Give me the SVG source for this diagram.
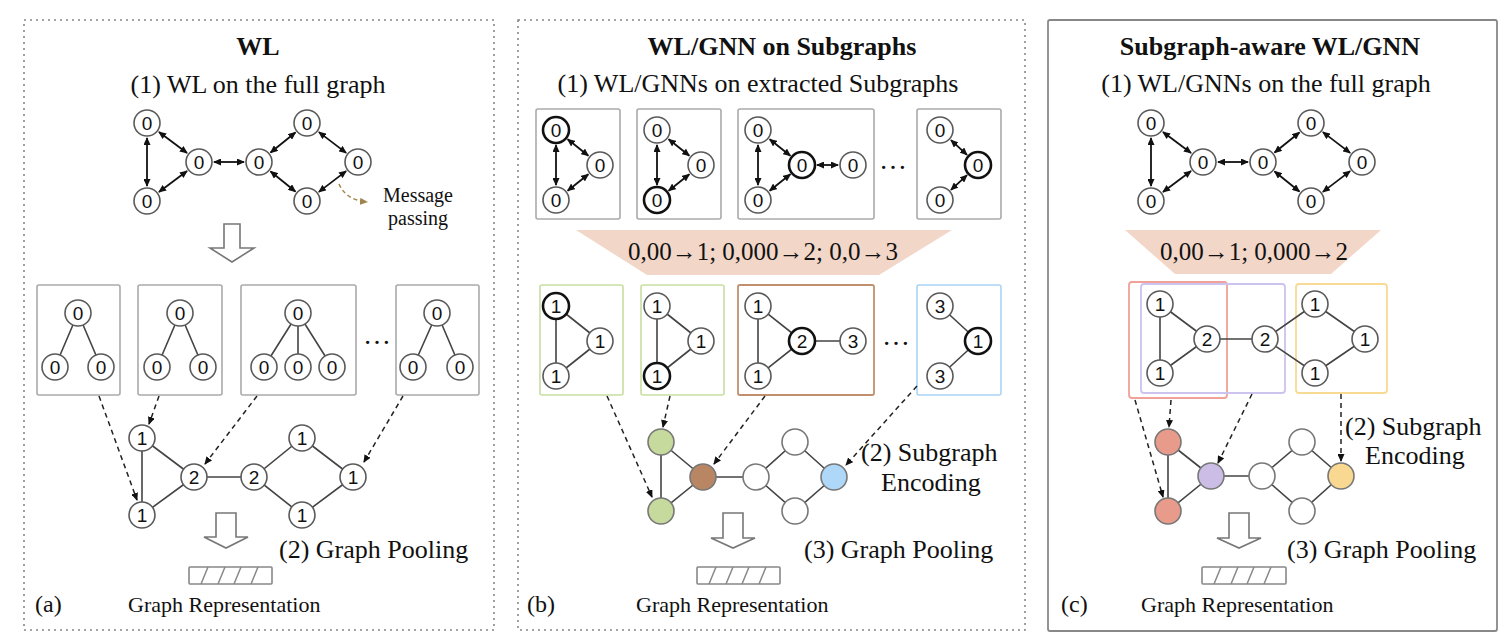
<svg xmlns="http://www.w3.org/2000/svg" width="1512" height="640" viewBox="0 0 1512 640">
<style>
.t{font-family:"Liberation Serif","Times New Roman",serif;fill:#111}
.tb{font-family:"Liberation Serif","Times New Roman",serif;font-weight:bold;fill:#111;font-size:26px;text-anchor:middle}
.s26{font-size:26px}
.s22{font-size:22px}
.s24{font-size:24px}
.s20{font-size:20px}
.mid{text-anchor:middle}
.n circle{fill:#fff;stroke:#5a5a5a;stroke-width:1.6}
.n.b circle{stroke:#111;stroke-width:2.6}
.n text{font-family:"Liberation Sans",Arial,sans-serif;font-size:19px;text-anchor:middle;fill:#111}
.box{fill:none;stroke:#aaa;stroke-width:1.6}
.da{stroke:#111;stroke-width:1.8;fill:none;marker-start:url(#dh);marker-end:url(#dh)}
.ln{stroke:#444;stroke-width:1.6;fill:none}
.dash{stroke:#222;stroke-width:1.5;fill:none;stroke-dasharray:5,4;marker-end:url(#ah)}
.hol{fill:#fff;stroke:#777;stroke-width:1.6}
.bar{fill:#fff;stroke:#888;stroke-width:1.6}
.hatch{stroke:#888;stroke-width:1.5}
.trap{fill:#f2d6c8}
</style>
<defs>
<marker id="dh" markerUnits="userSpaceOnUse" markerWidth="8" markerHeight="7" refX="7" refY="3.5" orient="auto-start-reverse"><path d="M0,0 L8,3.5 L0,7 z" fill="#111"/></marker>
<marker id="ah" markerUnits="userSpaceOnUse" markerWidth="8" markerHeight="7" refX="7" refY="3.5" orient="auto"><path d="M0,0 L8,3.5 L0,7 z" fill="#111"/></marker>
<marker id="bh" markerUnits="userSpaceOnUse" markerWidth="8" markerHeight="7" refX="7" refY="3.5" orient="auto"><path d="M0,0 L8,3.5 L0,7 z" fill="#a0854a"/></marker>
</defs>

<!-- Panel frames -->
<g id="panel-a-frame"><rect x="24" y="20" width="470" height="610" fill="none" stroke="#888" stroke-width="1.6" stroke-dasharray="2,4"/></g>
<g id="panel-b-frame"><rect x="518" y="20" width="507" height="610" fill="none" stroke="#888" stroke-width="1.6" stroke-dasharray="2,4"/></g>
<g id="panel-c-frame"><rect x="1048" y="20" width="449" height="611" rx="2" fill="none" stroke="#888" stroke-width="1.8"/></g>

<!-- Titles and labels -->
<g id="labels">
<text class="tb" x="258" y="55">WL</text>
<text class="t s26 mid" x="258" y="93">(1) WL on the full graph</text>
<text class="t s20 mid" x="418" y="202">Message</text>
<text class="t s20 mid" x="418" y="225">passing</text>
<text class="t s26" x="279" y="558">(2) Graph Pooling</text>
<text class="t s22" x="128" y="612">Graph Representation</text>
<text class="t s24" x="35" y="612">(a)</text>

<text class="tb" x="782" y="55">WL/GNN on Subgraphs</text>
<text class="t s26 mid" x="758" y="92">(1) WL/GNNs on extracted Subgraphs</text>
<text class="t s26" x="861" y="461">(2) Subgraph</text>
<text class="t s26" x="881" y="491">Encoding</text>
<text class="t s26" x="804" y="558">(3) Graph Pooling</text>
<text class="t s22" x="636" y="612">Graph Representation</text>
<text class="t s24" x="527" y="612">(b)</text>

<text class="tb" x="1270" y="55">Subgraph-aware WL/GNN</text>
<text class="t s26 mid" x="1266" y="92">(1) WL/GNNs on the full graph</text>
<text class="t s26" x="1345" y="435">(2) Subgraph</text>
<text class="t s26" x="1365" y="464">Encoding</text>
<text class="t s26" x="1287" y="558">(3) Graph Pooling</text>
<text class="t s22" x="1141" y="612">Graph Representation</text>
<text class="t s24" x="1061" y="612">(c)</text>

<text class="t mid" font-size="28" x="377" y="344">…</text>
<text class="t mid" font-size="28" x="893" y="169">…</text>
<text class="t mid" font-size="28" x="896" y="345">…</text>
</g>

<!-- Boxes -->
<g id="boxes">
<rect class="box" x="37" y="285" width="83" height="110" rx="2"/>
<rect class="box" x="138" y="285" width="84" height="110" rx="2"/>
<rect class="box" x="241" y="285" width="115" height="110" rx="2"/>
<rect class="box" x="396" y="285" width="83" height="110" rx="2"/>

<rect class="box" x="536" y="109" width="84" height="110" rx="2"/>
<rect class="box" x="637" y="109" width="84" height="110" rx="2"/>
<rect class="box" x="738" y="109" width="136" height="110" rx="2"/>
<rect class="box" x="917" y="109" width="84" height="110" rx="2"/>

<rect x="540" y="285" width="83" height="110" rx="2" fill="none" stroke="#c9dea2" stroke-width="1.6"/>
<rect x="641" y="285" width="83" height="110" rx="2" fill="none" stroke="#c9dea2" stroke-width="1.6"/>
<rect x="738" y="285" width="136" height="110" rx="2" fill="none" stroke="#c0906e" stroke-width="1.8"/>
<rect x="917" y="285" width="84" height="110" rx="2" fill="none" stroke="#a9d4f5" stroke-width="1.6"/>

<rect x="1129" y="282" width="98" height="116" rx="3" fill="none" stroke="#f0a198" stroke-width="1.8"/>
<rect x="1141" y="284" width="144" height="109" rx="3" fill="none" stroke="#cdc3ef" stroke-width="1.8"/>
<rect x="1296" y="284" width="91" height="109" rx="3" fill="none" stroke="#f8da94" stroke-width="1.8"/>
</g>

<!-- Trapezoids -->
<g id="trap-b"><polygon class="trap" points="576,230 952,230 879,275 647,275"/><text class="t mid" font-size="25" x="763" y="260">0,00→1; 0,000→2; 0,0→3</text></g>
<g id="trap-c"><polygon class="trap" points="1125,230 1381,230 1331,274 1175,274"/><text class="t mid" font-size="25" x="1254" y="260">0,00→1; 0,000→2</text></g>

<!-- Hollow arrows and bars -->
<g id="hollow-arrows">
<polygon class="hol" points="224,224 240,224 240,248 254,248 232,262 210,248 224,248"/>
<polygon class="hol" points="216,513 236,513 236,537 248,537 226,548 204,537 216,537"/>
<polygon class="hol" points="723,513 743,513 743,538 755,538 733,548 711,538 723,538"/>
<polygon class="hol" points="1229,513 1249,513 1249,538 1261,538 1239,548 1217,538 1229,538"/>
</g>
<g id="bars">
<rect class="bar" x="189" y="567" width="83" height="17" rx="1"/>
<path class="hatch" d="M201,584 L208,567 M218,584 L225,567 M234,584 L241,567 M251,584 L258,567"/>
<rect class="bar" x="697" y="567" width="83" height="17" rx="1"/>
<path class="hatch" d="M709,584 L716,567 M726,584 L733,567 M742,584 L749,567 M759,584 L766,567"/>
<rect class="bar" x="1202" y="567" width="84" height="17" rx="1"/>
<path class="hatch" d="M1214,584 L1221,567 M1231,584 L1238,567 M1247,584 L1254,567 M1264,584 L1271,567"/>
</g>

<!-- Connectors -->
<g id="connectors">
<g id="conn-a-top">
<line class="da" x1="147" y1="138" x2="147" y2="186"/>
<line class="da" x1="159" y1="132" x2="187" y2="153"/>
<line class="da" x1="159" y1="192" x2="187" y2="171"/>
<line class="da" x1="214" y1="162" x2="244" y2="162"/>
<line class="da" x1="270.6" y1="152.5" x2="295.4" y2="132.5"/>
<line class="da" x1="270.6" y1="171.5" x2="295.4" y2="191.5"/>
<line class="da" x1="318.9" y1="132.1" x2="346.1" y2="152.9"/>
<line class="da" x1="318.9" y1="191.9" x2="346.1" y2="171.1"/>
</g>
<g id="conn-c-top" transform="translate(1004,0)">
<line class="da" x1="147" y1="138" x2="147" y2="186"/>
<line class="da" x1="159" y1="132" x2="187" y2="153"/>
<line class="da" x1="159" y1="192" x2="187" y2="171"/>
<line class="da" x1="214" y1="162" x2="244" y2="162"/>
<line class="da" x1="270.6" y1="152.5" x2="295.4" y2="132.5"/>
<line class="da" x1="270.6" y1="171.5" x2="295.4" y2="191.5"/>
<line class="da" x1="318.9" y1="132.1" x2="346.1" y2="152.9"/>
<line class="da" x1="318.9" y1="191.9" x2="346.1" y2="171.1"/>
</g>
<path d="M339,184 Q346,200 367,202" fill="none" stroke="#a0854a" stroke-width="1.5" stroke-dasharray="4,3" marker-end="url(#bh)"/>

<g id="conn-b-top">
<line class="da" x1="556" y1="145" x2="556" y2="185"/>
<line class="da" x1="567.7" y1="139.3" x2="588.3" y2="155.7"/>
<line class="da" x1="567.7" y1="190.7" x2="588.3" y2="174.3"/>
<line class="da" x1="657" y1="145" x2="657" y2="185"/>
<line class="da" x1="668.7" y1="139.3" x2="689.3" y2="155.7"/>
<line class="da" x1="668.7" y1="190.7" x2="689.3" y2="174.3"/>
<line class="da" x1="758" y1="145" x2="758" y2="185"/>
<line class="da" x1="769.7" y1="139.3" x2="790.3" y2="155.7"/>
<line class="da" x1="769.7" y1="190.7" x2="790.3" y2="174.3"/>
<line class="da" x1="817" y1="165" x2="838" y2="165"/>
<line class="da" x1="951" y1="140.2" x2="967" y2="154.8"/>
<line class="da" x1="951" y1="189.8" x2="967" y2="175.2"/>
</g>

<g id="conn-plain">
<path class="ln" d="M78,313 L55,367 M78,313 L101,367 M180,313 L157,367 M180,313 L203,367 M298,313 L264,367 M298,313 L298,367 M298,313 L332,367 M437,313 L413,367 M437,313 L460,367"/>
<path class="ln" d="M142,438 L142,515 M142,438 L194,477 M142,515 L194,477 M194,477 L254,477 M254,477 L302,438 M254,477 L302,515 M302,438 L353,477 M302,515 L353,477"/>
<path class="ln" d="M556,306 L556,376 M556,306 L600,341 M556,376 L600,341 M657,306 L657,376 M657,306 L701,341 M657,376 L701,341 M758,306 L758,376 M758,306 L802,341 M758,376 L802,341 M802,341 L853,341 M940,306 L978,341 M940,376 L978,341"/>
<path class="ln" d="M661,442 L661,511 M661,442 L703,477 M661,511 L703,477 M703,477 L756,477 M756,477 L795,442 M756,477 L795,511 M795,442 L834,477 M795,511 L834,477"/>
<path class="ln" d="M1160,304 L1160,373 M1160,304 L1207,339 M1160,373 L1207,339 M1207,339 L1265,339 M1265,339 L1315,304 M1265,339 L1315,373 M1315,304 L1365,339 M1315,373 L1365,339"/>
<path class="ln" d="M1168,442 L1168,511 M1168,442 L1211,476 M1168,511 L1211,476 M1211,476 L1262,476 M1262,476 L1302,442 M1262,476 L1302,511 M1302,442 L1341,476 M1302,511 L1341,476"/>
</g>

<g id="conn-dashed">
<line class="dash" x1="99" y1="396" x2="137" y2="500"/>
<line class="dash" x1="159" y1="396" x2="149" y2="424"/>
<line class="dash" x1="257" y1="396" x2="205" y2="464"/>
<line class="dash" x1="403" y1="396" x2="364" y2="462"/>
<line class="dash" x1="607" y1="396" x2="652" y2="497"/>
<line class="dash" x1="670" y1="396" x2="663" y2="427"/>
<line class="dash" x1="765" y1="396" x2="714" y2="464"/>
<line class="dash" x1="917" y1="386" x2="846" y2="465"/>
<line class="dash" x1="1135" y1="400" x2="1163" y2="497"/>
<line class="dash" x1="1171" y1="400" x2="1169" y2="427"/>
<line class="dash" x1="1252" y1="394" x2="1218" y2="463"/>
<line class="dash" x1="1341" y1="394" x2="1341" y2="461"/>
</g>
</g>

<!-- Nodes: (a) top graph -->
<g id="a-top-1" class="n"><circle cx="147" cy="123" r="13"/><text x="147" y="130">0</text></g>
<g id="a-top-2" class="n"><circle cx="147" cy="201" r="13"/><text x="147" y="208">0</text></g>
<g id="a-top-3" class="n"><circle cx="199" cy="162" r="13"/><text x="199" y="169">0</text></g>
<g id="a-top-4" class="n"><circle cx="259" cy="162" r="13"/><text x="259" y="169">0</text></g>
<g id="a-top-5" class="n"><circle cx="307" cy="123" r="13"/><text x="307" y="130">0</text></g>
<g id="a-top-6" class="n"><circle cx="358" cy="162" r="13"/><text x="358" y="169">0</text></g>
<g id="a-top-7" class="n"><circle cx="307" cy="201" r="13"/><text x="307" y="208">0</text></g>

<!-- (a) trees -->
<g id="a-t1-r" class="n"><circle cx="78" cy="313" r="13"/><text x="78" y="320">0</text></g>
<g id="a-t1-l" class="n"><circle cx="55" cy="367" r="13"/><text x="55" y="374">0</text></g>
<g id="a-t1-c" class="n"><circle cx="101" cy="367" r="13"/><text x="101" y="374">0</text></g>
<g id="a-t2-r" class="n"><circle cx="180" cy="313" r="13"/><text x="180" y="320">0</text></g>
<g id="a-t2-l" class="n"><circle cx="157" cy="367" r="13"/><text x="157" y="374">0</text></g>
<g id="a-t2-c" class="n"><circle cx="203" cy="367" r="13"/><text x="203" y="374">0</text></g>
<g id="a-t3-r" class="n"><circle cx="298" cy="313" r="13"/><text x="298" y="320">0</text></g>
<g id="a-t3-l" class="n"><circle cx="264" cy="367" r="13"/><text x="264" y="374">0</text></g>
<g id="a-t3-m" class="n"><circle cx="298" cy="367" r="13"/><text x="298" y="374">0</text></g>
<g id="a-t3-c" class="n"><circle cx="332" cy="367" r="13"/><text x="332" y="374">0</text></g>
<g id="a-t4-r" class="n"><circle cx="437" cy="313" r="13"/><text x="437" y="320">0</text></g>
<g id="a-t4-l" class="n"><circle cx="413" cy="367" r="13"/><text x="413" y="374">0</text></g>
<g id="a-t4-c" class="n"><circle cx="460" cy="367" r="13"/><text x="460" y="374">0</text></g>

<!-- (a) bottom graph -->
<g id="a-bot-1" class="n"><circle cx="142" cy="438" r="13"/><text x="142" y="445">1</text></g>
<g id="a-bot-2" class="n"><circle cx="142" cy="515" r="13"/><text x="142" y="522">1</text></g>
<g id="a-bot-3" class="n"><circle cx="194" cy="477" r="13"/><text x="194" y="484">2</text></g>
<g id="a-bot-4" class="n"><circle cx="254" cy="477" r="13"/><text x="254" y="484">2</text></g>
<g id="a-bot-5" class="n"><circle cx="302" cy="438" r="13"/><text x="302" y="445">1</text></g>
<g id="a-bot-6" class="n"><circle cx="353" cy="477" r="13"/><text x="353" y="484">1</text></g>
<g id="a-bot-7" class="n"><circle cx="302" cy="515" r="13"/><text x="302" y="522">1</text></g>

<!-- (b) top subgraphs -->
<g id="b-s1-a" class="n b"><circle cx="556" cy="130" r="13"/><text x="556" y="137">0</text></g>
<g id="b-s1-b" class="n"><circle cx="556" cy="200" r="13"/><text x="556" y="207">0</text></g>
<g id="b-s1-c" class="n"><circle cx="600" cy="165" r="13"/><text x="600" y="172">0</text></g>
<g id="b-s2-a" class="n"><circle cx="657" cy="130" r="13"/><text x="657" y="137">0</text></g>
<g id="b-s2-b" class="n b"><circle cx="657" cy="200" r="13"/><text x="657" y="207">0</text></g>
<g id="b-s2-c" class="n"><circle cx="701" cy="165" r="13"/><text x="701" y="172">0</text></g>
<g id="b-s3-a" class="n"><circle cx="758" cy="130" r="13"/><text x="758" y="137">0</text></g>
<g id="b-s3-b" class="n"><circle cx="758" cy="200" r="13"/><text x="758" y="207">0</text></g>
<g id="b-s3-c" class="n b"><circle cx="802" cy="165" r="13"/><text x="802" y="172">0</text></g>
<g id="b-s3-d" class="n"><circle cx="853" cy="165" r="13"/><text x="853" y="172">0</text></g>
<g id="b-s4-a" class="n"><circle cx="940" cy="130" r="13"/><text x="940" y="137">0</text></g>
<g id="b-s4-b" class="n"><circle cx="940" cy="200" r="13"/><text x="940" y="207">0</text></g>
<g id="b-s4-c" class="n b"><circle cx="978" cy="165" r="13"/><text x="978" y="172">0</text></g>

<!-- (b) encoded subgraphs -->
<g id="b-e1-a" class="n b"><circle cx="556" cy="306" r="13"/><text x="556" y="313">1</text></g>
<g id="b-e1-b" class="n"><circle cx="556" cy="376" r="13"/><text x="556" y="383">1</text></g>
<g id="b-e1-c" class="n"><circle cx="600" cy="341" r="13"/><text x="600" y="348">1</text></g>
<g id="b-e2-a" class="n"><circle cx="657" cy="306" r="13"/><text x="657" y="313">1</text></g>
<g id="b-e2-b" class="n b"><circle cx="657" cy="376" r="13"/><text x="657" y="383">1</text></g>
<g id="b-e2-c" class="n"><circle cx="701" cy="341" r="13"/><text x="701" y="348">1</text></g>
<g id="b-e3-a" class="n"><circle cx="758" cy="306" r="13"/><text x="758" y="313">1</text></g>
<g id="b-e3-b" class="n"><circle cx="758" cy="376" r="13"/><text x="758" y="383">1</text></g>
<g id="b-e3-c" class="n b"><circle cx="802" cy="341" r="13"/><text x="802" y="348">2</text></g>
<g id="b-e3-d" class="n"><circle cx="853" cy="341" r="13"/><text x="853" y="348">3</text></g>
<g id="b-e4-a" class="n"><circle cx="940" cy="306" r="13"/><text x="940" y="313">3</text></g>
<g id="b-e4-b" class="n"><circle cx="940" cy="376" r="13"/><text x="940" y="383">3</text></g>
<g id="b-e4-c" class="n b"><circle cx="978" cy="341" r="13"/><text x="978" y="348">1</text></g>

<!-- (b) bottom graph -->
<g id="b-bot-1"><circle cx="661" cy="442" r="13" fill="#c5da9c" stroke="#777" stroke-width="1.6"/></g>
<g id="b-bot-2"><circle cx="661" cy="511" r="13" fill="#c5da9c" stroke="#777" stroke-width="1.6"/></g>
<g id="b-bot-3"><circle cx="703" cy="477" r="13" fill="#b98664" stroke="#777" stroke-width="1.6"/></g>
<g id="b-bot-4"><circle cx="756" cy="477" r="13" fill="#fff" stroke="#777" stroke-width="1.6"/></g>
<g id="b-bot-5"><circle cx="795" cy="442" r="13" fill="#fff" stroke="#777" stroke-width="1.6"/></g>
<g id="b-bot-6"><circle cx="834" cy="477" r="13" fill="#aed7f8" stroke="#777" stroke-width="1.6"/></g>
<g id="b-bot-7"><circle cx="795" cy="511" r="13" fill="#fff" stroke="#777" stroke-width="1.6"/></g>

<!-- (c) top graph -->
<g id="c-top-1" class="n"><circle cx="1151" cy="123" r="13"/><text x="1151" y="130">0</text></g>
<g id="c-top-2" class="n"><circle cx="1151" cy="201" r="13"/><text x="1151" y="208">0</text></g>
<g id="c-top-3" class="n"><circle cx="1203" cy="162" r="13"/><text x="1203" y="169">0</text></g>
<g id="c-top-4" class="n"><circle cx="1263" cy="162" r="13"/><text x="1263" y="169">0</text></g>
<g id="c-top-5" class="n"><circle cx="1311" cy="123" r="13"/><text x="1311" y="130">0</text></g>
<g id="c-top-6" class="n"><circle cx="1362" cy="162" r="13"/><text x="1362" y="169">0</text></g>
<g id="c-top-7" class="n"><circle cx="1311" cy="201" r="13"/><text x="1311" y="208">0</text></g>

<!-- (c) middle graph -->
<g id="c-mid-1" class="n"><circle cx="1160" cy="304" r="13"/><text x="1160" y="311">1</text></g>
<g id="c-mid-2" class="n"><circle cx="1160" cy="373" r="13"/><text x="1160" y="380">1</text></g>
<g id="c-mid-3" class="n"><circle cx="1207" cy="339" r="13"/><text x="1207" y="346">2</text></g>
<g id="c-mid-4" class="n"><circle cx="1265" cy="339" r="13"/><text x="1265" y="346">2</text></g>
<g id="c-mid-5" class="n"><circle cx="1315" cy="304" r="13"/><text x="1315" y="311">1</text></g>
<g id="c-mid-6" class="n"><circle cx="1365" cy="339" r="13"/><text x="1365" y="346">1</text></g>
<g id="c-mid-7" class="n"><circle cx="1315" cy="373" r="13"/><text x="1315" y="380">1</text></g>

<!-- (c) bottom graph -->
<g id="c-bot-1"><circle cx="1168" cy="442" r="13" fill="#e99b8b" stroke="#777" stroke-width="1.6"/></g>
<g id="c-bot-2"><circle cx="1168" cy="511" r="13" fill="#e99b8b" stroke="#777" stroke-width="1.6"/></g>
<g id="c-bot-3"><circle cx="1211" cy="476" r="13" fill="#cbbde6" stroke="#777" stroke-width="1.6"/></g>
<g id="c-bot-4"><circle cx="1262" cy="476" r="13" fill="#fff" stroke="#777" stroke-width="1.6"/></g>
<g id="c-bot-5"><circle cx="1302" cy="442" r="13" fill="#fff" stroke="#777" stroke-width="1.6"/></g>
<g id="c-bot-6"><circle cx="1341" cy="476" r="13" fill="#f9d992" stroke="#777" stroke-width="1.6"/></g>
<g id="c-bot-7"><circle cx="1302" cy="511" r="13" fill="#fff" stroke="#777" stroke-width="1.6"/></g>
</svg>
